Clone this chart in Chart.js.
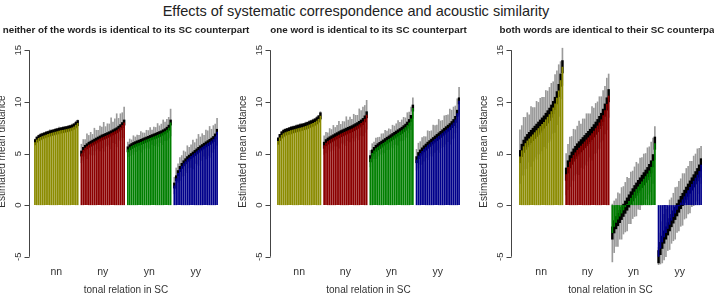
<!DOCTYPE html>
<html>
<head>
<meta charset="utf-8">
<script src="https://cdn.jsdelivr.net/npm/chart.js@4.4.0/dist/chart.umd.min.js"></script>
<style>
  html, body { margin: 0; padding: 0; background: #fff; overflow: hidden; }
  #wrap { position: relative; width: 714px; height: 296px; }
  canvas { position: absolute; left: 0; top: 0; }
  #title { position: absolute; top: 3px; left: 0; width: 712px; text-align: center;
           font: 14.5px "Liberation Sans", Arial, sans-serif; color: #222; white-space: nowrap; }
</style>
</head>
<body>
<div id="wrap">
  <div id="title">Effects of systematic correspondence and acoustic similarity</div>
  <canvas id="c1" width="714" height="296"></canvas>
  <canvas id="c2" width="714" height="296"></canvas>
  <canvas id="c3" width="714" height="296"></canvas>
</div>
<script>
// tonal relation groups and their colours
const groups = ['nn', 'ny', 'yn', 'yy'];
const groupColors = ['#8b8b00', '#8b0000', '#007f00', '#00008b'];
const yTicks = [-5, 0, 5, 10, 15];
const subtitles = [
  'neither of the words is identical to its SC counterpart',
  'one word is identical to its SC counterpart',
  'both words are identical to their SC counterpart'
];

// panel 1: estimated means (sorted) and grey interval half-widths
const p1nn = [6.10,6.35,6.50,6.60,6.68,6.75,6.82,6.88,6.95,7.00,7.05,7.10,7.15,7.20,7.24,7.28,7.32,7.36,7.40,7.45,7.52,7.62,7.78,7.95];
const p1ny = [5.00,5.35,5.55,5.70,5.85,5.95,6.05,6.15,6.25,6.35,6.45,6.55,6.62,6.70,6.78,6.86,6.95,7.05,7.15,7.25,7.40,7.55,7.75,8.00];
const p1yn = [5.40,5.60,5.72,5.82,5.90,5.98,6.05,6.12,6.20,6.28,6.35,6.42,6.50,6.58,6.65,6.72,6.80,6.88,6.95,7.05,7.15,7.30,7.50,8.00];
const p1yy = [1.90,2.60,3.10,3.50,3.80,4.05,4.25,4.45,4.60,4.75,4.90,5.05,5.20,5.35,5.50,5.62,5.75,5.88,6.00,6.12,6.25,6.40,6.65,7.10];
const p1nnCI = [0.30,0.25,0.30,0.35,0.30,0.28,0.32,0.30,0.35,0.30,0.28,0.33,0.30,0.35,0.30,0.32,0.30,0.28,0.33,0.30,0.32,0.30,0.35,0.30];
const p1nyCI = [0.9,1.0,0.8,1.2,0.9,1.1,0.8,1.3,1.0,0.9,1.2,1.0,1.4,0.9,1.1,1.0,1.5,1.0,1.2,1.6,1.0,1.3,1.2,1.5];
const p1ynCI = [0.7,0.8,0.6,0.9,0.7,0.8,0.7,1.0,0.8,0.7,0.9,0.8,1.0,0.7,0.9,0.8,1.1,0.8,0.9,1.2,0.9,1.0,1.0,1.3];
const p1yyCI = [0.8,1.0,0.9,1.1,1.0,1.2,0.9,1.3,1.0,1.1,1.4,1.0,1.2,1.5,1.1,1.3,1.0,1.4,1.2,1.5,1.1,1.3,1.2,1.3];

// panel 2
const p2nn = [6.20,6.55,6.80,6.95,7.05,7.12,7.18,7.24,7.30,7.35,7.40,7.45,7.50,7.55,7.60,7.66,7.72,7.80,7.88,7.96,8.05,8.18,8.35,8.65];
const p2ny = [5.80,6.05,6.20,6.32,6.42,6.52,6.62,6.72,6.82,6.92,7.00,7.08,7.16,7.24,7.32,7.40,7.50,7.60,7.70,7.82,7.95,8.10,8.35,8.75];
const p2yn = [4.50,5.05,5.30,5.50,5.65,5.78,5.90,6.02,6.15,6.28,6.40,6.52,6.64,6.76,6.88,7.00,7.12,7.25,7.40,7.55,7.75,8.00,8.40,9.40];
const p2yy = [4.40,4.80,5.05,5.25,5.45,5.62,5.80,5.95,6.10,6.25,6.40,6.55,6.70,6.85,7.00,7.15,7.30,7.45,7.60,7.80,8.00,8.30,8.90,10.10];
const p2nnCI = [0.35,0.30,0.35,0.40,0.35,0.30,0.35,0.40,0.35,0.30,0.38,0.35,0.40,0.35,0.30,0.38,0.35,0.40,0.35,0.38,0.35,0.40,0.35,0.40];
const p2nyCI = [0.9,1.0,0.8,1.1,0.9,1.2,0.9,1.0,1.3,0.9,1.1,1.0,1.4,1.0,1.2,0.9,1.3,1.1,1.0,1.5,1.2,1.4,1.3,1.4];
const p2ynCI = [0.8,0.9,0.8,1.0,0.9,0.8,1.0,0.9,1.1,0.9,1.0,0.8,1.1,0.9,1.0,1.2,0.9,1.0,1.1,0.9,1.2,1.0,1.1,1.0];
const p2yyCI = [1.0,1.2,1.1,1.3,1.2,1.0,1.4,1.2,1.1,1.5,1.3,1.2,1.6,1.3,1.2,1.5,1.4,1.3,1.7,1.4,1.5,1.3,1.4,1.3];

// panel 3
const p3nn = [4.70,5.30,5.70,6.00,6.25,6.45,6.65,6.85,7.05,7.25,7.45,7.65,7.85,8.05,8.30,8.55,8.80,9.10,9.45,9.85,10.40,11.10,12.10,13.40];
const p3ny = [3.00,3.70,4.20,4.55,4.85,5.10,5.35,5.55,5.75,5.95,6.15,6.35,6.55,6.75,6.95,7.20,7.45,7.70,8.00,8.30,8.70,9.20,9.80,10.60];
const p3yn = [-2.70,-2.10,-1.70,-1.40,-1.10,-0.80,-0.50,-0.20,0.10,0.40,0.70,1.00,1.30,1.55,1.80,2.05,2.30,2.55,2.80,3.05,3.35,3.70,4.30,6.00];
const p3yy = [-5.00,-4.20,-3.60,-3.10,-2.70,-2.30,-1.90,-1.50,-1.15,-0.80,-0.45,-0.10,0.25,0.55,0.85,1.15,1.45,1.75,2.05,2.35,2.65,2.95,3.30,3.90];
const p3nnCI = [2.6,2.4,2.8,2.5,2.7,2.3,2.9,2.6,2.4,2.8,2.5,2.7,2.6,2.4,2.8,2.5,2.6,2.7,2.5,2.8,2.6,2.5,1.8,1.8];
const p3nyCI = [2.0,2.2,2.4,2.1,2.5,2.2,2.3,2.6,2.1,2.4,2.2,2.5,2.3,2.1,2.6,2.2,2.4,2.3,2.5,2.2,2.4,2.3,2.5,2.1];
const p3ynCI = [2.8,2.5,2.3,2.6,2.2,2.5,2.3,2.4,2.6,2.2,2.5,2.3,2.4,2.6,2.2,2.5,2.3,2.4,2.2,2.5,2.3,2.4,2.2,1.6];
const p3yyCI = [0.9,1.5,2.0,2.2,2.3,2.1,2.4,2.2,2.3,2.5,2.2,2.4,2.3,2.5,2.2,2.4,2.3,2.5,2.2,2.4,2.3,2.5,2.2,1.8];

// half-width of the narrow (black) interval per panel
const blackHW = [0.25, 0.3, 0.6];

const FONT = '"Liberation Sans", Arial, sans-serif';

function makePanel(id, idx, means, cis, pad, axGap) {
  const labels = [], mean = [], blk = [], gry = [], cols = [], groupIdx = [];
  groups.forEach((g, gi) => {
    if (gi > 0) { labels.push(''); mean.push(null); blk.push(null); gry.push(null); cols.push('#fff'); }
    const first = labels.length;
    means[gi].forEach((m, i) => {
      labels.push(g);
      mean.push(m);
      blk.push([m - blackHW[idx], m + blackHW[idx]]);
      gry.push([m - cis[gi][i], m + cis[gi][i]]);
      cols.push(groupColors[gi]);
    });
    groupIdx.push([first, labels.length - 1]);
  });

  const axisPlugin = {
    id: 'rAxis',
    afterDraw(chart) {
      const { ctx, chartArea: a, scales: { x, y } } = chart;
      const ax = Math.round(a.left - axGap) + 0.5;
      ctx.save();
      ctx.strokeStyle = '#444';
      ctx.lineWidth = 1;
      ctx.beginPath();
      ctx.moveTo(ax, y.getPixelForValue(-5));
      ctx.lineTo(ax, y.getPixelForValue(15));
      yTicks.forEach(v => {
        const py = Math.round(y.getPixelForValue(v)) + 0.5;
        ctx.moveTo(ax, py);
        ctx.lineTo(ax - 5, py);
      });
      ctx.stroke();

      ctx.fillStyle = '#333';
      ctx.font = '9.5px ' + FONT;
      ctx.textAlign = 'center';
      ctx.textBaseline = 'middle';
      yTicks.forEach(v => {
        ctx.save();
        ctx.translate(ax - 11, y.getPixelForValue(v));
        ctx.rotate(-Math.PI / 2);
        ctx.fillText(String(v), 0, 0);
        ctx.restore();
      });

      // y title
      ctx.font = '10px ' + FONT;
      ctx.save();
      ctx.translate(ax - 27, (y.getPixelForValue(-5) + y.getPixelForValue(15)) / 2 - 2);
      ctx.rotate(-Math.PI / 2);
      ctx.fillText('Estimated mean distance', 0, 0);
      ctx.restore();

      // group labels
      ctx.font = '10.5px ' + FONT;
      groupIdx.forEach((r, gi) => {
        const cx = (x.getPixelForValue(r[0]) + x.getPixelForValue(r[1])) / 2;
        ctx.fillText(groups[gi], cx, 272);
      });
      const mid = (a.left + a.right) / 2;
      ctx.font = '10px ' + FONT;
      ctx.fillText('tonal relation in SC', mid, 290);

      // panel subtitle
      ctx.font = 'bold 9.8px ' + FONT;
      ctx.fillStyle = '#222';
      ctx.fillText(subtitles[idx], mid, 30);
      ctx.restore();
    }
  };

  return new Chart(document.getElementById(id), {
    type: 'bar',
    data: {
      labels: labels,
      datasets: [
        { data: mean, backgroundColor: cols, barPercentage: 0.93, categoryPercentage: 1, grouped: false, order: 0 },
        { data: blk, backgroundColor: '#000', barThickness: 1.8, grouped: false, order: 1 },
        { data: gry, backgroundColor: '#9a9a9a', barThickness: 1, grouped: false, order: 2 }
      ]
    },
    options: {
      responsive: false,
      animation: false,
      events: [],
      layout: { padding: pad },
      plugins: { legend: { display: false }, tooltip: { enabled: false } },
      scales: {
        x: { display: false, offset: true },
        y: { display: false, min: -5.8, max: 15.8 }
      }
    },
    plugins: [axisPlugin]
  });
}

makePanel('c1', 0, [p1nn, p1ny, p1yn, p1yy], [p1nnCI, p1nyCI, p1ynCI, p1yyCI],
  { left: 34, right: 714 - 218, top: 42, bottom: 31 }, 5);
makePanel('c2', 1, [p2nn, p2ny, p2yn, p2yy], [p2nnCI, p2nyCI, p2ynCI, p2yyCI],
  { left: 277, right: 714 - 460, top: 42, bottom: 31 }, 7);
makePanel('c3', 2, [p3nn, p3ny, p3yn, p3yy], [p3nnCI, p3nyCI, p3ynCI, p3yyCI],
  { left: 519, right: 714 - 702, top: 42, bottom: 31 }, 8);
</script>
</body>
</html>
